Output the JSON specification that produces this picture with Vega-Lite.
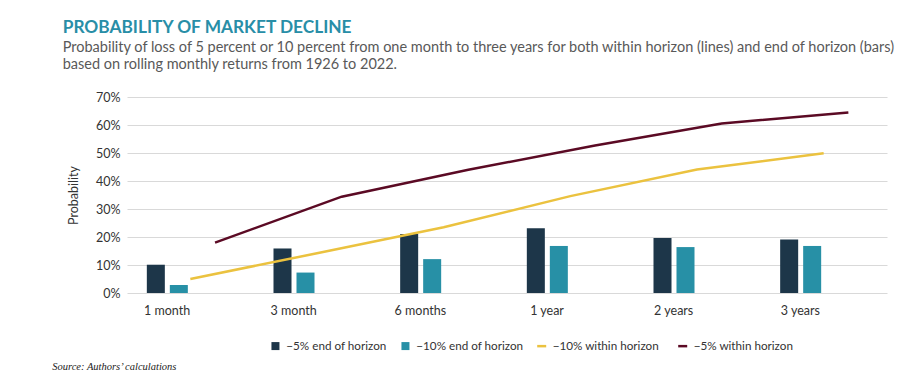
{
  "$schema": "https://vega.github.io/schema/vega-lite/v6.json",
  "width": 760,
  "height": 196,
  "autosize": {"type": "none"},
  "padding": {"left": 127, "top": 97, "right": 13, "bottom": 80},
  "background": "white",
  "config": {"view": {"stroke": null}, "font": "Lato"},
  "title": {
    "text": "PROBABILITY OF MARKET DECLINE",
    "subtitle": ["Probability of loss of 5 percent or 10 percent from one month to three years for both within horizon (lines) and end of horizon (bars)", "based on rolling monthly returns from 1926 to 2022."],
    "anchor": "start",
    "frame": "group",
    "dx": -64.3,
    "font": "Lato",
    "fontSize": 17.3,
    "fontWeight": "bold",
    "color": "#288ea7",
    "subtitleFont": "Lato",
    "subtitleFontSize": 14.5,
    "subtitleColor": "#595959",
    "subtitleLineHeight": 16.5,
    "subtitlePadding": 5,
    "offset": 20
  },
  "data": {
    "values": [
      {"horizon": "1 month", "series": "−5% end of horizon", "prob": 0.101},
      {"horizon": "3 month", "series": "−5% end of horizon", "prob": 0.159},
      {"horizon": "6 months", "series": "−5% end of horizon", "prob": 0.211},
      {"horizon": "1 year", "series": "−5% end of horizon", "prob": 0.231},
      {"horizon": "2 years", "series": "−5% end of horizon", "prob": 0.196},
      {"horizon": "3 years", "series": "−5% end of horizon", "prob": 0.191},
      {"horizon": "1 month", "series": "−10% end of horizon", "prob": 0.0285},
      {"horizon": "3 month", "series": "−10% end of horizon", "prob": 0.073},
      {"horizon": "6 months", "series": "−10% end of horizon", "prob": 0.121},
      {"horizon": "1 year", "series": "−10% end of horizon", "prob": 0.168},
      {"horizon": "2 years", "series": "−10% end of horizon", "prob": 0.164},
      {"horizon": "3 years", "series": "−10% end of horizon", "prob": 0.168},
      {"horizon": "1 month", "series": "−10% within horizon", "prob": 0.05},
      {"horizon": "3 month", "series": "−10% within horizon", "prob": 0.142},
      {"horizon": "6 months", "series": "−10% within horizon", "prob": 0.235},
      {"horizon": "1 year", "series": "−10% within horizon", "prob": 0.346},
      {"horizon": "2 years", "series": "−10% within horizon", "prob": 0.441},
      {"horizon": "3 years", "series": "−10% within horizon", "prob": 0.499},
      {"horizon": "1 month", "series": "−5% within horizon", "prob": 0.18},
      {"horizon": "3 month", "series": "−5% within horizon", "prob": 0.344},
      {"horizon": "6 months", "series": "−5% within horizon", "prob": 0.44},
      {"horizon": "1 year", "series": "−5% within horizon", "prob": 0.527},
      {"horizon": "2 years", "series": "−5% within horizon", "prob": 0.605},
      {"horizon": "3 years", "series": "−5% within horizon", "prob": 0.645}
    ]
  },
  "encoding": {
    "x": {
      "field": "horizon",
      "type": "nominal",
      "scale": {"domain": ["1 month", "3 month", "6 months", "1 year", "2 years", "3 years"], "paddingInner": 0, "paddingOuter": 0},
      "axis": {
        "title": "Source: Authors’ calculations",
        "titleFont": "Liberation Serif",
        "titleFontStyle": "italic",
        "titleFontWeight": "normal",
        "titleFontSize": 10.5,
        "titleColor": "#222222",
        "titleAlign": "left",
        "titleAnchor": "start",
        "titleX": -75.3,
        "titleY": 76.7,
        "titleBaseline": "alphabetic",
        "labelAngle": 0,
        "labelFont": "Lato",
        "labelFontSize": 12.5,
        "labelColor": "#333333",
        "labelPadding": 11.5,
        "labelOffset": -23.3,
        "ticks": false,
        "domain": false,
        "grid": false
      }
    },
    "y": {
      "field": "prob",
      "type": "quantitative",
      "scale": {"domain": [0, 0.7]},
      "axis": {
        "values": [0, 0.1, 0.2, 0.3, 0.4, 0.5, 0.6, 0.7],
        "format": ".0%",
        "title": "Probability",
        "titleFont": "Lato",
        "titleFontSize": 12.5,
        "titleFontWeight": "normal",
        "titleColor": "#333333",
        "titlePadding": 15,
        "labelFont": "Lato",
        "labelFontSize": 12.5,
        "labelColor": "#333333",
        "labelPadding": 7,
        "ticks": false,
        "domain": false,
        "gridColor": "#d9d9d9",
        "gridWidth": 1
      }
    }
  },
  "layer": [
    {
      "transform": [{"filter": "indexof(datum.series, 'end of horizon') >= 0"}],
      "mark": {"type": "bar"},
      "encoding": {
        "xOffset": {
          "field": "series",
          "type": "nominal",
          "scale": {"domain": ["−5% end of horizon", "−10% end of horizon", "−10% within horizon", "−5% within horizon"], "paddingInner": 0.217, "paddingOuter": 0.862}
        },
        "color": {
          "field": "series",
          "type": "nominal",
          "scale": {"domain": ["−5% end of horizon", "−10% end of horizon"], "range": ["#1d3649", "#2790a6"]},
          "legend": {
            "title": null,
            "orient": "none",
            "legendX": 142.6,
            "legendY": 243,
            "direction": "horizontal",
            "columns": 2,
            "symbolType": "square",
            "symbolSize": 64,
            "symbolStrokeWidth": 0,
            "labelFont": "Lato",
            "labelFontSize": 11.7,
            "labelColor": "#333333",
            "labelOffset": 5,
            "columnPadding": 13
          }
        }
      }
    },
    {
      "transform": [{"filter": "datum.series === '−10% within horizon'"}],
      "mark": {"type": "line", "strokeWidth": 2.5},
      "encoding": {
        "x": {"field": "horizon", "type": "nominal", "bandPosition": 0.5},
        "stroke": {
          "field": "series",
          "type": "nominal",
          "scale": {"domain": ["−10% within horizon", "−5% within horizon"], "range": ["#ebc23f", "#5b0a24"]},
          "legend": {
            "title": null,
            "orient": "none",
            "legendX": 408.7,
            "legendY": 243,
            "direction": "horizontal",
            "columns": 2,
            "symbolType": "stroke",
            "symbolSize": 81,
            "symbolStrokeWidth": 2.5,
            "labelFont": "Lato",
            "labelFontSize": 11.7,
            "labelColor": "#333333",
            "labelOffset": 5,
            "columnPadding": 13
          }
        }
      }
    },
    {
      "transform": [{"filter": "datum.series === '−5% within horizon'"}],
      "mark": {"type": "line", "strokeWidth": 2.5},
      "encoding": {
        "x": {"field": "horizon", "type": "nominal", "bandPosition": 0.695},
        "stroke": {
          "field": "series",
          "type": "nominal",
          "scale": {"domain": ["−10% within horizon", "−5% within horizon"], "range": ["#ebc23f", "#5b0a24"]},
          "legend": {
            "title": null,
            "orient": "none",
            "legendX": 408.7,
            "legendY": 243,
            "direction": "horizontal",
            "columns": 2,
            "symbolType": "stroke",
            "symbolSize": 81,
            "symbolStrokeWidth": 2.5,
            "labelFont": "Lato",
            "labelFontSize": 11.7,
            "labelColor": "#333333",
            "labelOffset": 5,
            "columnPadding": 13
          }
        }
      }
    }
  ]
}
